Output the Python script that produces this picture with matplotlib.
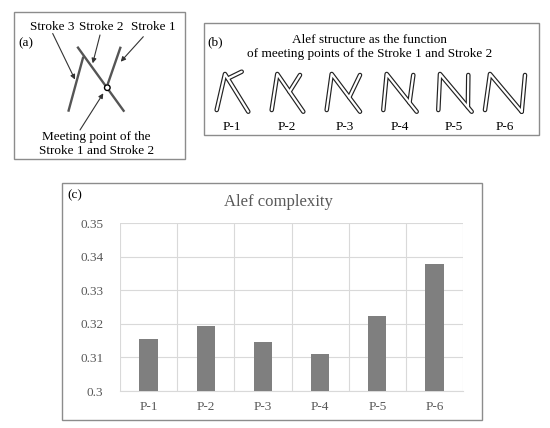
import matplotlib
matplotlib.use("Agg")
import matplotlib.pyplot as plt
import numpy as np
from matplotlib.patches import Rectangle, Circle
from matplotlib.ticker import FuncFormatter

# ---- data ----
categories = ["P-1", "P-2", "P-3", "P-4", "P-5", "P-6"]
complexity = [0.3155, 0.3192, 0.3145, 0.3110, 0.3222, 0.3379]
y_ticks = [0.30, 0.31, 0.32, 0.33, 0.34, 0.35]
# fraction along Stroke 2 where Stroke 1 meets it, for each alef variant
meet_frac = [0.12, 0.47, 0.62, 0.76, 0.88, 1.0]

plt.rcParams['font.family'] = ['Liberation Serif', 'DejaVu Serif']

W, H = 550, 428
fig = plt.figure(figsize=(W / 100, H / 100), dpi=100)

# overlay axes in pixel coordinates for the illustration panels
ov = fig.add_axes([0, 0, 1, 1], zorder=0)
ov.set_xlim(0, W)
ov.set_ylim(H, 0)
ov.axis('off')

box_col = '#8c8c8c'
for (x0, y0, x1, y1) in [(14, 12, 185, 159), (204, 23, 539, 135), (62, 183, 482, 420)]:
    ov.add_patch(Rectangle((x0, y0), x1 - x0, y1 - y0, fill=False, ec=box_col, lw=1.0))

# ---- panel (a) ----
ov.text(18, 43, "(a)", fontsize=9.5, ha='left', va='center')
stroke_col = '#555555'
ov.plot([68.3, 83.3], [111.7, 56.7], color=stroke_col, lw=1.7, solid_capstyle='butt')
ov.plot([77.3, 124.3], [46.7, 111.7], color=stroke_col, lw=1.7, solid_capstyle='butt')
ov.plot([120.7, 107.6], [46.7, 84.5], color=stroke_col, lw=1.7, solid_capstyle='butt')
ov.add_patch(Circle((107.3, 87.7), 2.8, fill=True, fc='white', ec='black', lw=1.0, zorder=3))

for txt, tx in [("Stroke 3", 52), ("Stroke 2", 101.5), ("Stroke 1", 153)]:
    ov.text(tx, 26.5, txt, fontsize=9.5, ha='center', va='center')
arrow_kw = dict(arrowstyle='-|>', color='#333333', lw=0.8, mutation_scale=7, shrinkA=0, shrinkB=0)
ov.annotate("", xy=(75, 79.5), xytext=(52.7, 33.5), arrowprops=arrow_kw)
ov.annotate("", xy=(92.7, 63.3), xytext=(100, 35), arrowprops=arrow_kw)
ov.annotate("", xy=(120.7, 61.7), xytext=(143.3, 36.7), arrowprops=arrow_kw)
ov.annotate("", xy=(103.3, 93.3), xytext=(80, 130), arrowprops=arrow_kw)
ov.text(96.5, 137, "Meeting point of the", fontsize=9.5, ha='center', va='center')
ov.text(96.5, 151.5, "Stroke 1 and Stroke 2", fontsize=9.5, ha='center', va='center')

# ---- panel (b) ----
ov.text(207, 42, "(b)", fontsize=9.5, ha='left', va='center')
ov.text(370, 40, "Alef structure as the function", fontsize=9.5, ha='center', va='center')
ov.text(370, 53.5, "of meeting points of the Stroke 1 and Stroke 2", fontsize=9.5, ha='center', va='center')

label_x = [231.7, 286.7, 345, 400, 453.3, 505]
shape_L = [(216.7, 110), (271.7, 110), (326.7, 110), (383.3, 110), (438.3, 110), (485, 110)]
shape_T = [(225, 74), (277.3, 74), (331.7, 74), (386.7, 74), (440, 74), (490, 74)]
shape_R = [(248.3, 111.7), (303.3, 111.7), (360, 111.7), (416.7, 111.7), (471.7, 111.7), (521.7, 111.7)]
shape_E = [(241.7, 71.7), (300, 75), (360, 75), (413.3, 75), (468.3, 75), (525, 75)]

for i, cat in enumerate(categories):
    L, T, R, E = map(np.array, (shape_L[i], shape_T[i], shape_R[i], shape_E[i]))
    M = T + meet_frac[i] * (R - T)
    for col, lw in [('#222222', 3.3), ('white', 1.6)]:
        ov.plot([L[0], T[0], R[0]], [L[1], T[1], R[1]], color=col, lw=lw,
                solid_capstyle='round', solid_joinstyle='round', zorder=2)
        ov.plot([M[0], E[0]], [M[1], E[1]], color=col, lw=lw,
                solid_capstyle='round', zorder=2)
    ov.text(label_x[i], 126.5, cat, fontsize=9.5, ha='center', va='center')

# ---- panel (c) ----
ov.text(67, 195, "(c)", fontsize=9.5, ha='left', va='center')
ov.text(278, 202, "Alef complexity", fontsize=12, color='#595959', ha='center', va='center')

ax = fig.add_axes([120 / W, 1 - 391 / H, (463 - 120) / W, (391 - 223) / H], zorder=1)
ax.patch.set_alpha(0)
x = np.arange(len(categories))
ax.bar(x, [v - y_ticks[0] for v in complexity], bottom=y_ticks[0], width=0.32,
       color='#7f7f7f', zorder=3)
ax.set_xlim(-0.5, len(categories) - 0.5)
ax.set_ylim(y_ticks[0], y_ticks[-1])
ax.set_yticks(y_ticks)
ax.yaxis.set_major_formatter(FuncFormatter(lambda v, p: ("%.2f" % v).rstrip('0')))
ax.set_xticks(x)
ax.set_xticklabels(categories)
ax.set_xticks(np.arange(len(categories) + 1) - 0.5, minor=True)
ax.tick_params(axis='both', which='both', length=0, labelsize=9.5, colors='#595959')
ax.tick_params(axis='y', pad=12)
ax.tick_params(axis='x', pad=7)
ax.grid(axis='y', which='major', color='#d9d9d9', lw=0.8, zorder=0)
ax.grid(axis='x', which='minor', color='#d9d9d9', lw=0.8, zorder=0)
for s in ['left', 'right', 'top']:
    ax.spines[s].set_visible(False)
ax.spines['bottom'].set_color('#d9d9d9')
ax.spines['bottom'].set_linewidth(0.8)

fig.savefig("out.png", dpi=100)
